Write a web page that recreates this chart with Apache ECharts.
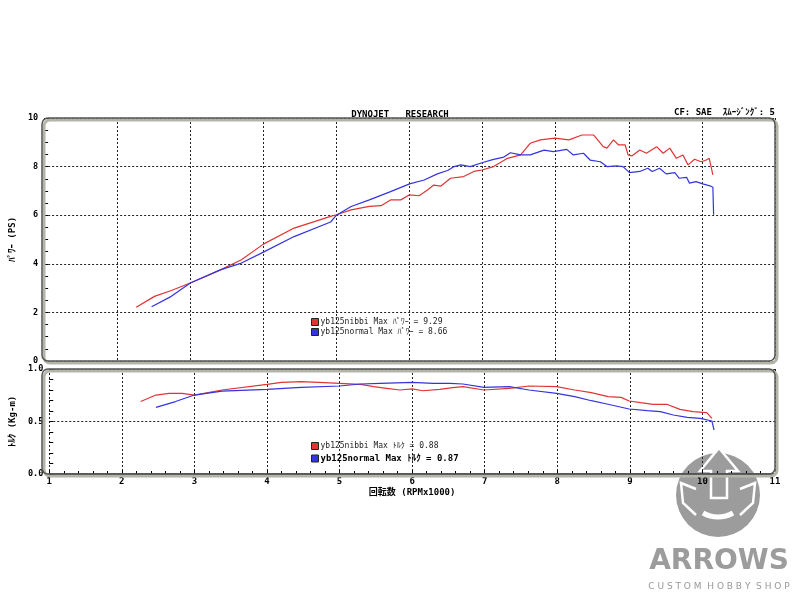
<!DOCTYPE html>
<html>
<head>
<meta charset="utf-8">
<script src="https://cdn.jsdelivr.net/npm/echarts@6/dist/echarts.min.js"></script>
<style>
  html, body { margin: 0; padding: 0; background: #fff; }
  #chart { width: 800px; height: 600px; }
</style>
</head>
<body>
<div id="chart"></div>
<script>
// run names and the max values printed in the legends
const runNames = ['yb125nibbi', 'yb125normal'];
const maxPower = [9.29, 8.66];
const maxTorque = [0.88, 0.87];

// [rpm x1000, PS]
const nibbiPower = [
  [2.26, 2.21], [2.51, 2.66], [2.74, 2.9], [3.0, 3.21], [3.42, 3.76], [3.7, 4.17],
  [4.0, 4.81], [4.42, 5.47], [4.92, 5.95], [5.0, 6.02], [5.2, 6.22], [5.45, 6.36],
  [5.61, 6.39], [5.74, 6.63], [5.88, 6.63], [6.0, 6.84], [6.13, 6.8], [6.25, 7.05],
  [6.33, 7.24], [6.43, 7.2], [6.56, 7.52], [6.74, 7.59], [6.88, 7.8], [6.99, 7.86],
  [7.15, 8.0], [7.34, 8.34], [7.52, 8.48], [7.65, 8.96], [7.79, 9.1], [7.99, 9.17],
  [8.18, 9.1], [8.36, 9.3], [8.52, 9.3], [8.65, 8.82], [8.7, 8.76], [8.79, 9.1],
  [8.86, 8.89], [8.95, 8.89], [8.99, 8.48], [9.04, 8.44], [9.15, 8.68], [9.24, 8.55],
  [9.38, 8.82], [9.47, 8.55], [9.56, 8.76], [9.65, 8.34], [9.74, 8.48], [9.81, 8.07],
  [9.9, 8.3], [9.99, 8.2], [10.06, 8.27], [10.1, 8.34], [10.15, 7.66]
];
const normalPower = [
  [2.47, 2.23], [2.74, 2.66], [3.0, 3.21], [3.42, 3.76], [3.7, 4.03], [4.0, 4.48],
  [4.42, 5.12], [4.92, 5.72], [5.0, 6.0], [5.2, 6.36], [5.45, 6.63], [5.74, 6.97],
  [6.0, 7.29], [6.2, 7.45], [6.38, 7.7], [6.52, 7.84], [6.61, 8.0], [6.7, 8.07],
  [6.83, 8.0], [6.99, 8.16], [7.15, 8.3], [7.29, 8.39], [7.38, 8.57], [7.52, 8.48],
  [7.65, 8.48], [7.84, 8.68], [7.97, 8.62], [8.15, 8.71], [8.24, 8.48], [8.38, 8.55],
  [8.47, 8.27], [8.61, 8.2], [8.7, 8.0], [8.83, 8.03], [8.92, 8.0], [9.01, 7.75],
  [9.15, 7.8], [9.26, 7.93], [9.32, 7.8], [9.42, 7.93], [9.51, 7.7], [9.63, 7.75],
  [9.69, 7.52], [9.79, 7.56], [9.83, 7.32], [9.92, 7.38], [10.01, 7.29], [10.11, 7.21],
  [10.15, 7.15], [10.16, 6.02]
];

// [rpm x1000, Kg-m]
const nibbiTorque = [
  [2.26, 0.69], [2.47, 0.752], [2.65, 0.768], [2.83, 0.768], [3.0, 0.752], [3.38, 0.8],
  [4.0, 0.854], [4.2, 0.873], [4.47, 0.879], [4.79, 0.87], [5.0, 0.864], [5.29, 0.854],
  [5.47, 0.832], [5.65, 0.816], [5.83, 0.8], [6.0, 0.81], [6.15, 0.793], [6.38, 0.806],
  [6.56, 0.822], [6.7, 0.832], [6.99, 0.8], [7.34, 0.816], [7.61, 0.838], [7.99, 0.832],
  [8.24, 0.8], [8.47, 0.775], [8.7, 0.737], [8.88, 0.73], [8.99, 0.695], [9.15, 0.679],
  [9.32, 0.664], [9.51, 0.664], [9.69, 0.616], [9.87, 0.594], [10.06, 0.584], [10.13, 0.53]
];
const normalTorque = [
  [2.47, 0.635], [2.74, 0.69], [3.0, 0.752], [3.38, 0.79], [4.0, 0.806], [4.47, 0.825],
  [5.0, 0.838], [5.29, 0.857], [5.56, 0.864], [6.0, 0.873], [6.29, 0.864], [6.52, 0.864],
  [6.7, 0.857], [6.99, 0.825], [7.34, 0.832], [7.61, 0.8], [7.99, 0.768], [8.24, 0.737],
  [8.47, 0.698], [8.7, 0.664], [8.99, 0.619], [9.24, 0.603], [9.42, 0.594], [9.6, 0.562],
  [9.79, 0.54], [9.97, 0.53], [10.13, 0.505], [10.16, 0.419]
];

const red = '#e03434';
const blue = '#3434e0';
const mono = '"DejaVu Sans Mono", "Noto Sans CJK JP", monospace';

var chart = echarts.init(document.getElementById('chart'));

const dotted = { show: true, lineStyle: { color: '#222', type: [2, 2], width: 1 } };
const labelStyle = { color: '#000', fontFamily: mono, fontWeight: 'bold', fontSize: 9 };

function xAxisOf(gridIndex, withLabels) {
  return {
    type: 'value', gridIndex: gridIndex, min: 1, max: 11, interval: 1,
    name: withLabels ? '回転数 (RPMx1000)' : '',
    nameLocation: 'middle', nameGap: 14,
    nameTextStyle: labelStyle,
    axisLine: { show: withLabels, lineStyle: { color: '#333', width: 1.5 } },
    axisTick: { show: withLabels, inside: true, length: 4, lineStyle: { color: '#000' } },
    minorTick: { show: withLabels, splitNumber: 5, length: 3, lineStyle: { color: '#000' } },
    axisLabel: Object.assign({ show: withLabels, margin: 3 }, labelStyle),
    splitLine: dotted
  };
}

function yAxisOf(gridIndex, max, interval, minorSplit, name, fmt) {
  return {
    type: 'value', gridIndex: gridIndex, min: 0, max: max, interval: interval,
    name: name, nameLocation: 'middle', nameGap: 26, nameRotate: 90,
    nameTextStyle: labelStyle,
    axisLine: { show: false },
    axisTick: { show: true, inside: true, length: 4, lineStyle: { color: '#000' } },
    minorTick: { show: true, splitNumber: minorSplit, length: 4, lineStyle: { color: '#000' } },
    axisLabel: Object.assign({ margin: 6, formatter: fmt }, labelStyle, { fontSize: 8.5 }),
    splitLine: dotted
  };
}

function lineSeries(name, data, color, axisIndex) {
  return {
    name: name, type: 'line', data: data,
    xAxisIndex: axisIndex, yAxisIndex: axisIndex,
    showSymbol: false, symbol: 'none', smooth: false,
    lineStyle: { color: color, width: 1.2 },
    itemStyle: { color: color },
    z: 3
  };
}

function panel(x, y, w, h) {
  return [
    { type: 'rect', z: 5, shape: { x: x + 2, y: y + 2, width: w, height: h, r: 6 },
      style: { fill: 'none', stroke: '#b4b4a8', lineWidth: 3 } },
    { type: 'rect', z: 6, shape: { x: x, y: y, width: w, height: h, r: 6 },
      style: { fill: 'none', stroke: '#555', lineWidth: 1.5 } }
  ];
}

const legendBase = {
  orient: 'vertical', icon: 'rect', itemWidth: 7, itemHeight: 7,
  itemStyle: { borderColor: '#222', borderWidth: 1 },
  textStyle: { fontFamily: mono, fontSize: 8, color: '#222', padding: [0, 0, 0, -3] },
  selectedMode: false
};

const option = {
  backgroundColor: '#fff',
  animation: false,
  title: [
    { text: 'DYNOJET   RESEARCH', left: 'center', top: 105,
      textStyle: { fontFamily: mono, fontWeight: 'bold', fontSize: 9, color: '#000' } },
    { text: 'CF: SAE  ｽﾑｰｼﾞﾝｸﾞ: 5', left: 669, top: 103,
      textStyle: { fontFamily: mono, fontWeight: 'bold', fontSize: 9, color: '#000' } }
  ],
  grid: [
    { left: 42, right: 25, top: 118, height: 243 },
    { left: 42, right: 25, top: 369, height: 105 }
  ],
  xAxis: [xAxisOf(0, false), xAxisOf(1, true)],
  yAxis: [
    yAxisOf(0, 10, 2, 4, 'ﾊﾟﾜｰ (PS)', v => String(v)),
    yAxisOf(1, 1, 0.5, 5, 'ﾄﾙｸ (Kg-m)', v => v.toFixed(1))
  ],
  legend: [
    Object.assign({}, legendBase, {
      data: runNames, left: 306, top: 313, itemGap: 2,
      formatter: n => n + ' Max ﾊﾟﾜｰ = ' + maxPower[runNames.indexOf(n)].toFixed(2)
    }),
    Object.assign({}, legendBase, {
      data: runNames, left: 306, top: 437, itemGap: 4,
      formatter: n => {
        const i = runNames.indexOf(n);
        const s = n + ' Max ﾄﾙｸ = ' + maxTorque[i].toFixed(2);
        return i === 1 ? '{b|' + s + '}' : s;
      },
      textStyle: Object.assign({}, legendBase.textStyle, {
        rich: { b: { fontFamily: mono, fontSize: 9, fontWeight: 'bold', color: '#000' } }
      })
    })
  ],
  series: [
    lineSeries(runNames[0], nibbiPower, red, 0),
    lineSeries(runNames[1], normalPower, blue, 0),
    lineSeries(runNames[0], nibbiTorque, red, 1),
    lineSeries(runNames[1], normalTorque, blue, 1)
  ],
  graphic: [].concat(
    panel(42, 118, 733, 243),
    panel(42, 369, 733, 105),
    [
      // shop watermark
      { type: 'group', x: 718, y: 495, z: -10, children: [
        { type: 'circle', shape: { cx: 0, cy: 0, r: 42 }, style: { fill: '#9c9c9c' } },
        { type: 'polygon', shape: { points: [[1, -47], [20, -24], [9, -24], [9, 3], [-7, 3], [-7, -24], [-18, -24]] },
          style: { fill: '#9c9c9c', stroke: '#fff', lineWidth: 2.5 } },
        { type: 'polyline', shape: { points: [[-22, -6], [-37, -12], [-35, 8], [-22, 20]] },
          style: { fill: 'none', stroke: '#fff', lineWidth: 2.5 } },
        { type: 'polyline', shape: { points: [[22, -6], [37, -12], [35, 8], [22, 20]] },
          style: { fill: 'none', stroke: '#fff', lineWidth: 2.5 } },
        { type: 'arc', shape: { cx: 0, cy: -8, r: 30, startAngle: Math.PI / 3, endAngle: Math.PI * 2 / 3 },
          style: { fill: 'none', stroke: '#fff', lineWidth: 5 } }
      ]},
      { type: 'text', z: -10, x: 719, y: 562,
        style: { text: 'ARROWS', font: 'bold 28px "DejaVu Sans"', fill: '#9c9c9c',
                 textAlign: 'center', textVerticalAlign: 'middle' } },
      { type: 'text', z: -10, x: 719, y: 587,
        style: { text: 'C U S T O M  H O B B Y  S H O P', font: '9px "DejaVu Sans"', fill: '#999',
                 textAlign: 'center', textVerticalAlign: 'middle' } }
    ]
  )
};

chart.setOption(option);
</script>
</body>
</html>
